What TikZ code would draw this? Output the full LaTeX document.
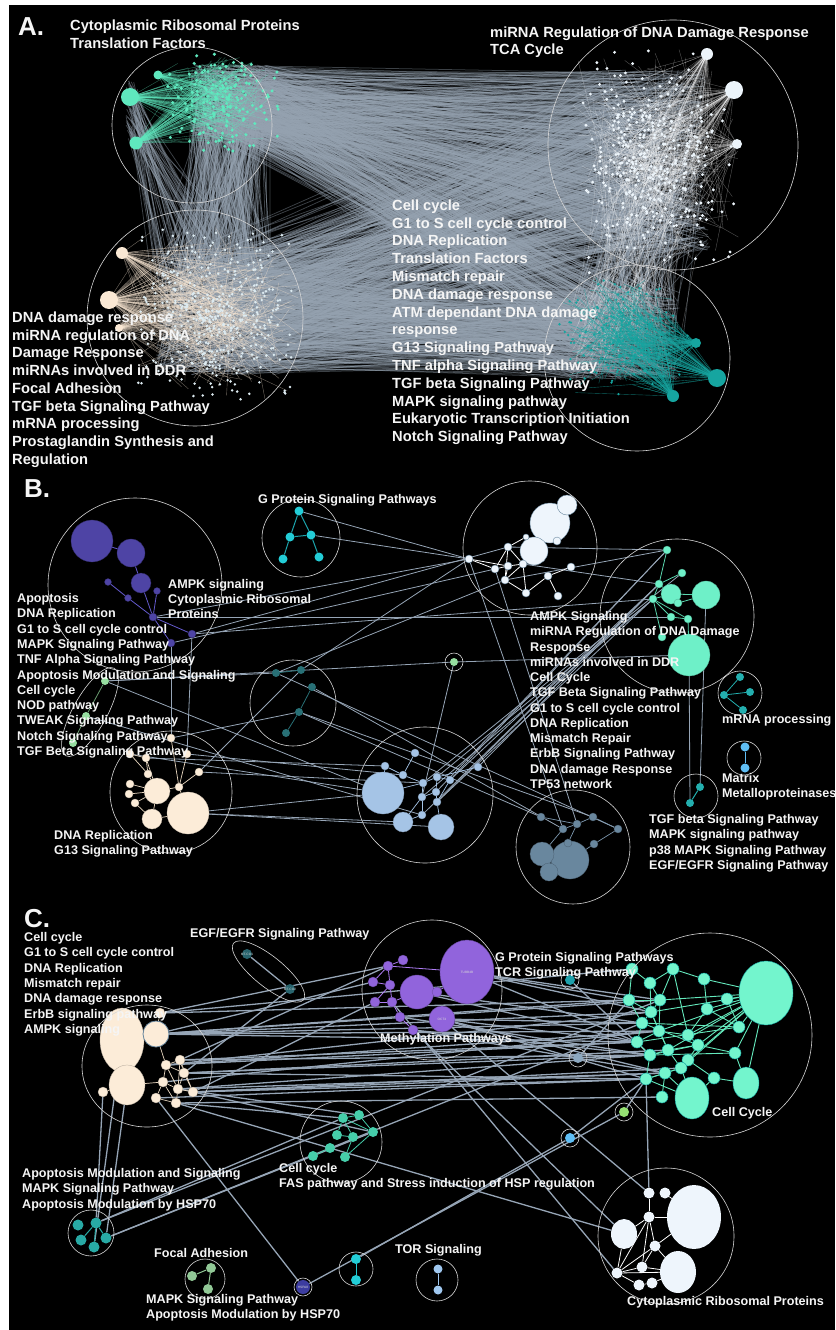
\documentclass[tikz,border=0pt]{standalone}
\usepackage{fontspec}
\setmainfont{Liberation Sans}
\usetikzlibrary{shapes.geometric}
\pgfdeclarelayer{back}
\pgfdeclarelayer{edges}
\pgfsetlayers{back,edges,main}
\definecolor{gline}{RGB}{150,163,177}
\definecolor{aqA}{RGB}{95,232,190}
\definecolor{whA}{RGB}{236,244,250}
\definecolor{bgA}{RGB}{250,232,212}
\definecolor{dotA}{RGB}{220,234,240}
\definecolor{tlA}{RGB}{22,165,160}
\definecolor{ringc}{RGB}{215,215,215}
\definecolor{purB}{RGB}{78,68,165}
\definecolor{beiB}{RGB}{252,236,216}
\definecolor{lbB}{RGB}{165,196,230}
\definecolor{slB}{RGB}{105,135,158}
\definecolor{whB}{RGB}{238,245,252}
\definecolor{aqB}{RGB}{110,240,200}
\definecolor{dtB}{RGB}{40,112,118}
\definecolor{grB}{RGB}{150,222,160}
\definecolor{cyB}{RGB}{35,205,215}
\definecolor{tqB}{RGB}{35,175,175}
\definecolor{mmB}{RGB}{95,190,245}
\definecolor{purC}{RGB}{145,100,220}
\definecolor{aqC}{RGB}{115,245,205}
\definecolor{fasC}{RGB}{70,205,170}
\definecolor{apC}{RGB}{40,170,165}
\definecolor{foC}{RGB}{145,200,150}
\definecolor{hsC}{RGB}{60,60,160}
\definecolor{torC}{RGB}{160,200,240}
\definecolor{egC}{RGB}{40,100,110}
\definecolor{gsC}{RGB}{140,168,192}
\definecolor{gnC}{RGB}{150,225,115}
\definecolor{edgeB}{RGB}{150,165,182}
\definecolor{txt}{RGB}{245,245,245}
\newcommand\randlines[9]{\foreach \i in {1,...,#1}{\pgfmathsetmacro\xa{#2+#4*rand}\pgfmathsetmacro\ya{#3+#5*rand}\pgfmathsetmacro\xb{#6+#8*rand}\pgfmathsetmacro\yb{#7+#9*rand}\draw (\xa,\ya) -- (\xb,\yb);}}
\newcommand\fanlines[7]{\foreach \i in {1,...,#1}{\pgfmathsetmacro\xb{#4+#6*(rand+rand)/2}\pgfmathsetmacro\yb{#5+#7*(rand+rand)/2}\draw (#2,#3) -- (\xb,\yb);}}
\newcommand\trilines[5]{\foreach \i in {1,...,#1}{\pgfmathsetmacro\xa{#2+#4*(rand+rand)/2}\pgfmathsetmacro\ya{#3+#5*(rand+rand)/2}\pgfmathsetmacro\xb{#2+#4*(rand+rand)/2}\pgfmathsetmacro\yb{#3+#5*(rand+rand)/2}\draw (\xa,\ya) -- (\xb,\yb);}}
\newcommand\cloud[6]{\foreach \i in {1,...,#1}{\pgfmathsetmacro\xb{#2+#4*(rand+rand)/2}\pgfmathsetmacro\yb{#3+#5*(rand+rand)/2}\fill (\xb,\yb) circle[radius=#6];}}
\newcommand\lblock[6]{\foreach \t [count=\k] in {#6}{\node[#5] (#1\k) at (#2,{#3+(\k-1)*#4}) {\t};}}
\begin{document}
\begin{tikzpicture}[x=1pt,y=-1pt,
  nd/.style={circle,inner sep=0pt,minimum size=#1pt},
  el/.style 2 args={ellipse,inner sep=0pt,minimum width=#1pt,minimum height=#2pt},
  clus/.style={draw=ringc,line width=0.6pt},
  labA/.style={text=txt,font=\fontsize{14.7}{16}\selectfont\bfseries,inner sep=0pt,anchor=base west},
  lab/.style={text=txt,font=\fontsize{12.6}{14}\selectfont\bfseries,inner sep=0pt,anchor=base west},
  big/.style={text=txt,font=\fontsize{26}{26}\selectfont\bfseries,inner sep=0pt,anchor=base west},
  tiny/.style={font=\fontsize{3.2}{3.2}\selectfont,text=white!85!black},
  eB/.style={draw=edgeB,line width=0.8pt},
  eC/.style={draw=edgeB,line width=1.3pt},
  ePu/.style={draw={rgb,255:red,100;green,90;blue,205},line width=0.8pt},
  eBe/.style={draw={rgb,255:red,232;green,215;blue,192},line width=0.7pt},
  eLb/.style={draw=lbB,line width=0.7pt},
  eAq/.style={draw={rgb,255:red,90;green,215;blue,175},line width=0.8pt},
  eWh/.style={draw=white,line width=0.8pt},
  eSl/.style={draw={rgb,255:red,125;green,152;blue,175},line width=0.7pt}]
\useasboundingbox (0,0) rectangle (835,1330);
\begin{pgfonlayer}{back}
\fill[white] (0,0) rectangle (835,1330);
\fill[black] (9,5) rectangle (835,1330);
\pgfmathsetseed{1234}
% ---------- Panel A: inter-cluster grey mass
\begin{scope}[draw=gline,draw opacity=0.4,line width=0.75pt]
 \randlines{550}{230}{100}{40}{35}{650}{160}{60}{90}
 \randlines{250}{230}{100}{40}{35}{625}{335}{55}{45}
 \randlines{280}{230}{100}{40}{35}{215}{315}{60}{60}
 \randlines{480}{215}{315}{60}{60}{650}{160}{60}{90}
 \randlines{480}{215}{315}{60}{60}{625}{335}{55}{45}
 \randlines{150}{650}{160}{60}{90}{625}{335}{55}{45}
 \randlines{70}{132}{110}{6}{30}{215}{315}{60}{60}
\end{scope}
% A1 aqua
\begin{scope}[draw=aqA,draw opacity=0.45,line width=0.4pt]
 \fanlines{80}{130}{97}{222}{100}{55}{50}
 \fanlines{50}{158}{75}{222}{100}{55}{50}
 \fanlines{70}{136}{143}{222}{100}{55}{50}
 \trilines{60}{222}{100}{60}{55}
\end{scope}
\begin{scope}[fill=aqA]
 \cloud{160}{222}{100}{60}{55}{1.7}
\end{scope}
% A2 white
\begin{scope}[draw=white,draw opacity=0.35,line width=0.35pt]
 \fanlines{60}{707}{54}{650}{160}{80}{110}
 \fanlines{70}{734}{90}{650}{160}{80}{110}
 \fanlines{50}{737}{144}{650}{160}{80}{110}
 \trilines{300}{655}{160}{85}{115}
 \randlines{90}{650}{200}{50}{60}{625}{335}{55}{45}
\end{scope}
\begin{scope}[fill=whA]
 \cloud{340}{655}{160}{85}{115}{1.6}
\end{scope}
% A3 beige
\begin{scope}[draw=bgA,draw opacity=0.45,line width=0.4pt]
 \fanlines{100}{109}{300}{215}{315}{85}{85}
 \fanlines{60}{122}{253}{215}{315}{85}{85}
 \fanlines{60}{119}{328}{215}{315}{85}{85}
 \trilines{170}{215}{315}{90}{90}
\end{scope}
\begin{scope}[fill=dotA]
 \cloud{400}{215}{315}{90}{90}{1.4}
\end{scope}
% A4 teal
\begin{scope}[draw=tlA,draw opacity=0.6,line width=0.4pt]
 \fanlines{60}{717}{378}{625}{335}{65}{60}
 \fanlines{60}{696}{343}{625}{335}{65}{60}
 \fanlines{60}{673}{396}{625}{335}{65}{60}
 \trilines{120}{625}{335}{65}{60}
\end{scope}
\begin{scope}[fill=tlA]
 \cloud{160}{622}{335}{70}{60}{1.3}
\end{scope}
\end{pgfonlayer}
% A hubs
\node[nd=18,fill=aqA] (a1n1) at (130,97) {};
\node[nd=9,fill=aqA] (a1n2) at (158,75) {};
\node[nd=13,fill=aqA] (a1n3) at (136,143) {};
\node[nd=12,fill=whA] (a2n1) at (707,54) {};
\node[nd=18,fill=whA] (a2n2) at (734,90) {};
\node[nd=10,fill=whA] (a2n3) at (737,144) {};
\node[nd=18,fill=bgA] (a3n1) at (109,300) {};
\node[nd=12,fill=bgA] (a3n2) at (122,253) {};
\node[nd=8,fill=bgA] (a3n3) at (119,328) {};
\node[nd=18,fill=tlA] (a4n1) at (717,378) {};
\node[nd=10,fill=tlA] (a4n2) at (696,343) {};
\node[nd=12,fill=tlA] (a4n3) at (673,396) {};
\draw[clus] (192,125) ellipse[x radius=80,y radius=78];
\draw[clus] (673,145) circle[radius=125];
\draw[clus] (195,318) circle[radius=108];
\draw[clus] (637,358) circle[radius=93];
% ================= Panel B nodes
\foreach \x/\y/\s [count=\i] in {92/541/42,131/553/28,141/583/20,108/582/7,128/598/7,157/591/7,153/617/8,192/634/8,171/643/8}
  \node[nd=\s,fill=purB,draw=purB!60!black,line width=0.3pt] (bp\i) at (\x,\y) {};
\foreach \x/\y/\s [count=\i] in {188/813/42,157/791/26,152/819/20,130/784/8,129/794/8,135/803/8,148/774/8,146/758/8,130/754/8,171/738/8,187/754/8,199/772/8,179/787/8}
  \node[nd=\s,fill=beiB,draw=beiB!80!black,line width=0.3pt] (bb\i) at (\x,\y) {};
\foreach \x/\y [count=\i] in {105/681,86/716,73/743}
  \node[nd=8,fill=grB] (bg\i) at (\x,\y) {};
\foreach \x/\y [count=\i] in {299/511,311/535,290/537,283/559,319/557}
  \node[nd=9,fill=cyB] (gp\i) at (\x,\y) {};
\foreach \x/\y [count=\i] in {276/673,301/670,312/687,299/712,286/733}
  \node[nd=8,fill=dtB] (dt\i) at (\x,\y) {};
\node[nd=8,fill=grB] (bgs) at (454,662) {};
\foreach \x/\y/\s [count=\i] in {383/793/42,403/822/20,441/827/26,385/766/8,403/775/8,415/753/8,423/783/8,437/777/8,450/780/8,422/797/8,436/792/8,437/802/8,422/815/8,478/767/8}
  \node[nd=\s,fill=lbB,draw=lbB!75!black,line width=0.3pt] (lb\i) at (\x,\y) {};
\foreach \x/\y/\s [count=\i] in {570/860/38,542/854/24,549/872/18,541/817/8,563/829/8,577/824/8,593/817/8,618/829/8,594/844/8,568/843/8}
  \node[nd=\s,fill=slB,draw=slB!70!black,line width=0.3pt] (sl\i) at (\x,\y) {};
\foreach \x/\y/\s [count=\i] in {550/523/40,534/551/28,567/505/20,557/541/8,526/537/6,469/559/8,495/569/8,508/547/8,508/566/8,523/564/8,505/580/8,526/593/8,548/576/8,571/567/8,558/596/8}
  \node[nd=\s,fill=whB,draw=slB,line width=0.4pt] (wb\i) at (\x,\y) {};
\foreach \x/\y/\s [count=\i] in {706/595/28,671/594/20,689/655/42,667/550/8,682/573/8,659/584/8,653/599/8,671/617/8,688/619/8,662/637/8,678/603/8}
  \node[nd=\s,fill=aqB,draw=aqB!70!black,line width=0.3pt] (ab\i) at (\x,\y) {};
\foreach \x/\y [count=\i] in {724/695,750/692,743/710,740/677}
  \node[nd=8,fill=tqB] (mr\i) at (\x,\y) {};
\foreach \x/\y [count=\i] in {745/747,745/768}
  \node[nd=9,fill=mmB] (mm\i) at (\x,\y) {};
\foreach \x/\y [count=\i] in {700/787,690/803}
  \node[nd=8,fill=tqB] (tg\i) at (\x,\y) {};
% ================= Panel C nodes
\node[el={44}{64},fill=beiB,draw=beiB!70!black,line width=0.3pt] (bc1) at (122,1040) {};
\node[el={36}{40},fill=beiB,draw=beiB!70!black,line width=0.3pt] (bc2) at (127,1085) {};
\node[nd=26,fill=beiB,draw=slB,line width=0.8pt] (bc3) at (156,1034) {};
\foreach \x/\y [count=\i from 4] in {160/1013,166/1065,180/1060,184/1073,163/1082,178/1089,193/1092,156/1098,176/1103,103/1092}
  \node[nd=10,fill=beiB,draw=beiB!70!black,line width=0.3pt] (bc\i) at (\x,\y) {};
\node[nd=10,fill=egC] (eg1) at (247,954) {};
\node[nd=10,fill=egC] (eg2) at (290,989) {};
\node[tiny] at (247,954) {MT-CO1};
\node[tiny] at (290,989) {MT-CO2};
\node[el={54}{64},fill=purC,draw=purC!70!black,line width=0.4pt] (pc1) at (467,972) {};
\node[tiny] at (467,972) {TUBB4B};
\node[nd=26,fill=purC,draw=purC!70!black,line width=0.4pt] (pc2) at (442,1019) {};
\node[tiny] at (442,1019) {OCT4};
\node[nd=34,fill=purC,draw=purC!70!black,line width=0.4pt] (pc3) at (417,992) {};
\foreach \x/\y [count=\i from 4] in {388/966,403/960,373/982,390/985,375/1002,392/1002,400/1017,413/1030,437/992}
  \node[nd=10,fill=purC,draw=purC!70!black,line width=0.3pt] (pc\i) at (\x,\y) {};
\node[el={54}{64},fill=aqC,draw=tlA,line width=0.4pt] (ac1) at (766,993) {};
\node[el={26}{32},fill=aqC,draw=tlA,line width=0.4pt] (ac2) at (746,1083) {};
\node[el={34}{42},fill=aqC,draw=tlA,line width=0.4pt] (ac3) at (692,1098) {};
\foreach \x/\y [count=\i from 4] in {632/969,673/969,650/983,704/979,629/1000,660/1000,727/999,707/1009,651/1012,642/1023,659/1031,688/1035,698/1045,637/1042,668/1050,650/1055,688/1060,681/1068,665/1073,646/1079,714/1078,735/1053,739/1027,662/1097}
  \node[nd=12,fill=aqC,draw=tlA,line width=0.5pt] (ac\i) at (\x,\y) {};
\node[nd=10,fill={rgb,255:red,30;green,160;blue,170}] (ts) at (570,980) {};
\node[nd=10,fill=gsC] (gs) at (578,1058) {};
\node[nd=10,fill=gnC] (gn) at (624,1112) {};
\node[nd=10,fill=mmB] (bl) at (570,1138) {};
\foreach \x/\y [count=\i] in {343/1118,359/1115,373/1132,337/1135,353/1137,330/1148,345/1157,313/1156}
  \node[nd=10,fill=fasC] (fa\i) at (\x,\y) {};
\foreach \x/\y [count=\i] in {78/1225,96/1223,81/1240,94/1247,106/1238}
  \node[nd=11,fill=apC] (ap\i) at (\x,\y) {};
\foreach \x/\y [count=\i] in {192/1276,211/1268,208/1289}
  \node[nd=10,fill=foC] (fo\i) at (\x,\y) {};
\node[nd=14,fill=hsC] (hs) at (303,1287) {};
\node[tiny] at (303,1287) {HSPA8};
\foreach \x/\y [count=\i] in {356/1259,356/1280}
  \node[nd=10,fill=cyB] (cy\i) at (\x,\y) {};
\foreach \x/\y [count=\i] in {438/1269,438/1290}
  \node[nd=9,fill=torC] (to\i) at (\x,\y) {};
\node[el={54}{64},fill=whB] (wc1) at (694,1217) {};
\node[el={36}{42},fill=whB] (wc2) at (678,1272) {};
\node[el={26}{30},fill=whB] (wc3) at (624,1234) {};
\foreach \x/\y [count=\i from 4] in {649/1193,665/1193,649/1217,655/1246,642/1267,617/1273,639/1285,652/1283}
  \node[nd=11,fill=whB] (wc\i) at (\x,\y) {};
% ================= edges (under nodes)
\begin{pgfonlayer}{edges}
\foreach \a/\b in {gp1/wb6,bp7/wb6,bp8/wb8,bp9/wb7,bg1/dt1,dt1/wb11,dt2/wb6,bg1/bgs,bp9/bb10,bp8/bb11,bb9/lb1,bb8/lb4,bb11/lb5,bb12/lb7,bb1/lb1,bb1/lb2,bb1/lb3,bb12/dt2,bb10/dt4,dt4/sl4,dt3/sl5,wb6/sl5,wb7/sl6,lb8/ab7,lb9/ab6,lb12/ab7,lb11/ab4,lb13/ab6,lb7/ab5,wb8/ab4,wb11/ab4,wb10/ab6,bgs/ab3,bgs/lb10,ab3/tg2,ab1/tg1,gp2/wb6,bg2/lb13,bg1/lb1,bp8/ab7,bp7/ab8,dt1/sl8,dt4/sl7,lb14/ab6,lb10/ab7,lb12/ab6,lb9/ab4}
  \draw[eB] (\a) -- (\b);
\foreach \a/\b in {1/2,2/3,3/7,5/7,6/7,7/9,7/8,4/5} \draw[ePu] (bp\a) -- (bp\b);
\foreach \a/\b in {9/7,8/7,7/2,4/2,5/2,6/3,2/3,3/1,2/13,13/1,11/13,10/13,8/2,9/8,6/2,12/13} \draw[eBe] (bb\a) -- (bb\b);
\foreach \a/\b in {1/2,2/3} \draw[draw=grB!70!black,line width=0.8pt] (bg\a) -- (bg\b);
\foreach \a/\b in {1/2,1/3,3/4,2/5,3/2} \draw[draw=cyB!80!black,line width=1pt] (gp\a) -- (gp\b);
\foreach \a/\b in {5/4,4/3,2/1} \draw[draw=dtB,line width=0.8pt] (dt\a) -- (dt\b);
\foreach \a/\b in {1/4,4/5,5/7,7/8,8/9,7/10,10/11,11/12,12/3,13/10,13/2,1/7,6/5,8/14,9/12,11/8,10/2} \draw[eLb] (lb\a) -- (lb\b);
\foreach \a/\b in {4/6,5/6,6/7,7/8,8/9,6/10,10/1,9/1,5/2} \draw[eSl] (sl\a) -- (sl\b);
\foreach \a/\b in {6/7,7/8,7/9,8/11,9/11,11/12,9/10,10/12,10/2,12/13,13/14,13/15,8/10,8/5,6/9,11/10} \draw[eWh] (wb\a) -- (wb\b);
\foreach \a/\b in {4/6,6/5,6/2,6/7,7/8,7/9,7/10,7/2,2/1,11/1,9/3,8/9,11/2} \draw[eAq] (ab\a) -- (ab\b);
\foreach \a/\b in {1/2,1/3,1/4} \draw[draw=tqB,line width=0.8pt] (mr\a) -- (mr\b);
\draw[draw=mmB,line width=1pt] (mm1) -- (mm2);
\draw[draw=tqB,line width=1pt] (tg1) -- (tg2);
% C grey
\foreach \a/\b in {bc3/ac8,bc3/ac13,bc4/pc4,bc3/pc6,bc6/ac17,bc7/ac19,bc10/ac23,bc5/ac14,bc9/fa2,bc10/fa3,bc12/fa1,bc11/hs,bc13/ap2,bc1/ap4,bc2/ap5,ap5/fa3,ap2/fa1,ap5/ac13,ap2/ac9,hs/gn,bl/ac23,gn/ac23,pc9/wc9,pc11/wc3,pc2/wc4,ac23/wc4,pc1/ac8,pc1/ac12,pc2/ac13,pc2/ac23,pc3/ac17,pc11/ac19,pc1/ac17,pc2/ac22,ts/ac19,eg2/bc7,gs/ac8,pc8/bc10,pc4/bc6,cy1/bl,bc3/ac17,bc12/wc3,bc4/ac4,bc3/ac9,bc5/ac12,bc7/ac18,bc10/ac21,bc9/ac22,eg1/eg2,bc4/ac8,bc3/ac12,bc5/ac17,bc6/ac19,bc7/ac23,bc8/ac14,bc9/ac19,bc10/ac22,bc12/ac27,bc11/ac23,bc3/ac14,pc1/ac9,pc3/ac13,pc10/ac19,pc11/ac22,pc2/ac17}
  \draw[eC] (\a) -- (\b);
\foreach \a/\b in {4/3,5/6,5/7,6/7,5/8,8/9,9/10,7/10,8/11,9/12,11/12,6/9,7/9,3/5,8/12,2/13,2/8,6/10,5/9} \draw[eBe] (bc\a) -- (bc\b);
\foreach \a/\b in {4/5,4/6,4/7,6/7,7/8,7/9,8/9,9/3,4/1,3/12,10/11,9/10,12/1} \draw[draw={rgb,255:red,175;green,125;blue,245},line width=0.8pt] (pc\a) -- (pc\b);
\foreach \a/\b in {4/8,4/6,5/6,5/9,5/15,6/9,7/11,7/1,8/9,8/12,9/12,9/14,10/1,11/1,11/15,12/13,12/14,13/17,14/15,14/18,15/16,16/18,16/20,17/19,18/19,18/21,19/23,20/21,21/22,22/23,22/27,24/2,24/3,25/1,26/1,25/2,16/1,15/1,20/1,21/1,18/1,14/1,9/1,12/1,13/26,17/26,19/25,23/3,21/3,20/24,16/25,11/26,10/26,2/1,17/14,8/13,6/12,7/5,22/3,19/16,12/18,13/16,23/21}
  \draw[draw={rgb,255:red,100;green,232;blue,188},line width=0.9pt] (ac\a) -- (ac\b);
\foreach \a/\b in {1/2,2/3,1/4,1/5,5/7,7/3,1/3,6/8,4/5} \draw[draw=fasC,line width=0.8pt] (fa\a) -- (fa\b);
\foreach \a/\b in {2/3,2/5,2/4} \draw[draw=apC,line width=1pt] (ap\a) -- (ap\b);
\foreach \a/\b in {1/2,2/3} \draw[draw=foC,line width=1pt] (fo\a) -- (fo\b);
\draw[draw=cyB,line width=1pt] (cy1) -- (cy2);
\draw[draw=torC,line width=1pt] (to1) -- (to2);
\foreach \a/\b in {5/1,6/1,6/3,6/7,6/9,7/1,7/2,7/9,8/2,8/9,9/10,10/11,3/9,6/8,7/8,9/2,11/2,4/6} \draw[eWh] (wc\a) -- (wc\b);
\end{pgfonlayer}
% ================= cluster outlines B
\draw[clus] (135,585) circle[radius=87];
\draw[clus] (171,792) circle[radius=61];
\draw[clus,rotate around={-29:(90,712)}] (90,712) ellipse[x radius=17,y radius=50];
\draw[clus] (301,538) circle[radius=39];
\draw[clus] (293,703) circle[radius=43];
\draw[clus] (454,662) circle[radius=9];
\draw[clus] (425,795) circle[radius=68];
\draw[clus] (573,847) circle[radius=57];
\draw[clus] (530,548) circle[radius=67];
\draw[clus] (677,616) circle[radius=77];
\draw[clus] (740,693) circle[radius=22];
\draw[clus] (744,758) circle[radius=17];
\draw[clus] (696,796) circle[radius=22];
% cluster outlines C
\draw[clus] (147,1066) ellipse[x radius=65,y radius=61];
\draw[clus,rotate around={-39:(268.5,971.5)}] (268.5,971.5) ellipse[x radius=45,y radius=15];
\draw[clus] (432,990) circle[radius=70];
\draw[clus] (710,1035) circle[radius=102];
\draw[clus] (570,980) circle[radius=9];
\draw[clus] (578,1058) circle[radius=9];
\draw[clus] (624,1112) circle[radius=9];
\draw[clus] (570,1138) circle[radius=9];
\draw[clus] (341,1142) circle[radius=41];
\draw[clus] (91,1233) circle[radius=23];
\draw[clus] (205,1279) circle[radius=20];
\draw[clus] (303,1287) circle[radius=9];
\draw[clus] (356,1269) circle[radius=17];
\draw[clus] (437,1280) circle[radius=21];
\draw[clus] (666,1236) circle[radius=68];
% ================= labels
\node[big] (pA) at (18,36) {A.};
\node[big] (pB) at (24,497) {B.};
\node[big] (pC) at (24,927) {C.};
\lblock{la}{70}{30.3}{18}{labA}{Cytoplasmic Ribosomal Proteins,Translation Factors}
\lblock{lb}{490}{37.3}{17.5}{labA}{miRNA Regulation of DNA Damage Response,TCA Cycle}
\lblock{lc}{392}{210.3}{17.8}{labA}{Cell cycle,G1 to S cell cycle control,DNA Replication,Translation Factors,Mismatch repair,DNA damage response,ATM dependant DNA damage,response,G13 Signaling Pathway,TNF alpha Signaling Pathway,TGF beta Signaling Pathway,MAPK signaling pathway,Eukaryotic Transcription Initiation,Notch Signaling Pathway}
\lblock{ld}{12}{322.3}{17.75}{labA}{DNA damage response,miRNA regulation of DNA,Damage Response,miRNAs involved in DDR,Focal Adhesion,TGF beta Signaling Pathway,mRNA processing,Prostaglandin Synthesis and,Regulation}
\lblock{le}{258}{503.5}{15}{lab}{G Protein Signaling Pathways}
\lblock{lf}{168}{588.5}{15.2}{lab}{AMPK signaling,Cytoplasmic Ribosomal,Proteins}
\lblock{lg}{17}{602.5}{15.3}{lab}{Apoptosis,DNA Replication,G1 to S cell cycle control,MAPK Signaling Pathway,TNF Alpha Signaling Pathway,Apoptosis Modulation and Signaling,Cell cycle,NOD pathway,TWEAK Signaling Pathway,Notch Signaling Pathway,TGF Beta Signaling Pathway}
\lblock{lh}{54}{839.5}{15}{lab}{DNA Replication,G13 Signaling Pathway}
\lblock{li}{530}{620.5}{15.27}{lab}{AMPK Signaling,miRNA Regulation of DNA Damage,Response,miRNAs involved in DDR,Cell Cycle,TGF Beta Signaling Pathway,G1 to S cell cycle control,DNA Replication,Mismatch Repair,ErbB Signaling Pathway,DNA damage Response,TP53 network}
\lblock{lj}{722}{723.5}{15}{lab}{mRNA processing}
\lblock{lk}{722}{782.5}{15}{lab}{Matrix,Metalloproteinases}
\lblock{ll}{649}{823.5}{15.3}{lab}{TGF beta Signaling Pathway,MAPK signaling pathway,p38 MAPK Signaling Pathway,EGF/EGFR Signaling Pathway}
\lblock{lm}{24}{941.5}{15.33}{lab}{Cell cycle,G1 to S cell cycle control,DNA Replication,Mismatch repair,DNA damage response,ErbB signaling pathway,AMPK signaling}
\lblock{ln}{190}{937.5}{15}{lab}{EGF/EGFR Signaling Pathway}
\lblock{lo}{495}{961.5}{14.5}{lab}{G Protein Signaling Pathways,TCR Signaling Pathway}
\lblock{lp}{380}{1042.5}{15}{lab}{Methylation Pathways}
\lblock{lq}{712}{1116.5}{15}{lab}{Cell Cycle}
\lblock{lr}{279}{1172.5}{15}{lab}{Cell cycle,FAS pathway and Stress induction of HSP regulation}
\lblock{ls}{22}{1177.5}{15.3}{lab}{Apoptosis Modulation and Signaling,MAPK Signaling Pathway,Apoptosis Modulation by HSP70}
\lblock{lt}{154}{1257.5}{15}{lab}{Focal Adhesion}
\lblock{lu}{146}{1303.5}{15}{lab}{MAPK Signaling Pathway,Apoptosis Modulation by HSP70}
\lblock{lv}{395}{1253.5}{15}{lab}{TOR Signaling}
\lblock{lw}{627}{1305.5}{15}{lab}{Cytoplasmic Ribosomal Proteins}
\end{tikzpicture}
\end{document}
